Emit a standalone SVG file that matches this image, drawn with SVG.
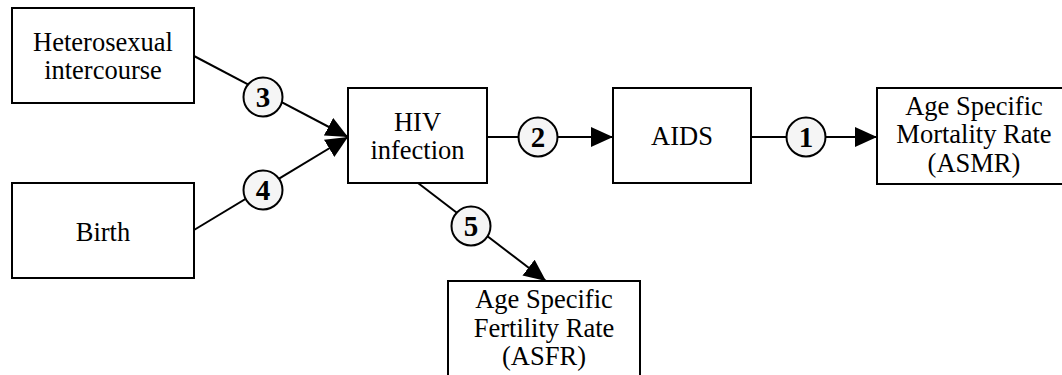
<svg xmlns="http://www.w3.org/2000/svg" width="1062" height="375" viewBox="0 0 1062 375">
  <style>
    .box { fill: #ffffff; stroke: #000000; stroke-width: 2; }
    .lbl { font-family: 'Liberation Serif', 'Tinos', 'Times New Roman', 'DejaVu Serif', serif; font-size: 26.5px; fill: #000000; text-anchor: middle; }
    .link { stroke: #000000; stroke-width: 2; fill: none; marker-end: url(#head); }
    .tag circle { fill: #f5f5f5; stroke: #000000; stroke-width: 2; }
    .tag text { font-family: 'Liberation Serif', 'Tinos', 'Times New Roman', 'DejaVu Serif', serif; font-size: 29px; font-weight: bold; fill: #000000; text-anchor: middle; }
  </style>
  <defs>
    <marker id="head" viewBox="0 0 22 20" refX="22" refY="10" markerWidth="22" markerHeight="20" markerUnits="userSpaceOnUse" orient="auto">
      <path d="M0,0 L22,10 L0,20 Z" fill="#000000"/>
    </marker>
  </defs>
  <rect width="1062" height="375" fill="#ffffff"/>

  <!-- connectors, with their numbered tags -->
  <g id="connectors">
    <line class="link" x1="194" y1="56" x2="348" y2="137"/>
    <line class="link" x1="194" y1="230" x2="348" y2="137"/>
    <line class="link" x1="487" y1="137" x2="613" y2="137"/>
    <line class="link" x1="751" y1="137" x2="877" y2="137"/>
    <line class="link" x1="418" y1="183" x2="546" y2="281"/>
    <g class="tag"><circle cx="263" cy="97" r="19.5"/><text x="263" y="107">3</text></g>
    <g class="tag"><circle cx="263" cy="190" r="19.5"/><text x="263" y="200">4</text></g>
    <g class="tag"><circle cx="538" cy="137" r="19.5"/><text x="538" y="147">2</text></g>
    <g class="tag"><circle cx="806" cy="137" r="19.5"/><text x="806" y="147">1</text></g>
    <g class="tag"><circle cx="471" cy="226" r="19.5"/><text x="471" y="236">5</text></g>
  </g>

  <g id="node-heterosexual">
    <rect class="box" x="12" y="8" width="182" height="95"/>
    <text class="lbl" x="103" y="51">Heterosexual</text>
    <text class="lbl" x="103" y="79">intercourse</text>
  </g>

  <g id="node-birth">
    <rect class="box" x="12" y="183" width="182" height="95"/>
    <text class="lbl" x="103" y="241">Birth</text>
  </g>

  <g id="node-hiv">
    <rect class="box" x="348" y="88" width="139" height="95"/>
    <text class="lbl" x="417.5" y="131">HIV</text>
    <text class="lbl" x="417.5" y="159">infection</text>
  </g>

  <g id="node-aids">
    <rect class="box" x="613" y="88" width="138" height="95"/>
    <text class="lbl" x="682" y="145">AIDS</text>
  </g>

  <g id="node-asmr">
    <rect class="box" x="877" y="88" width="194" height="96"/>
    <text class="lbl" x="974" y="115">Age Specific</text>
    <text class="lbl" x="974" y="143">Mortality Rate</text>
    <text class="lbl" x="974" y="172">(ASMR)</text>
  </g>

  <g id="node-asfr">
    <rect class="box" x="448" y="281" width="192" height="110"/>
    <text class="lbl" x="544" y="308">Age Specific</text>
    <text class="lbl" x="544" y="337">Fertility Rate</text>
    <text class="lbl" x="544" y="365">(ASFR)</text>
  </g>
</svg>
